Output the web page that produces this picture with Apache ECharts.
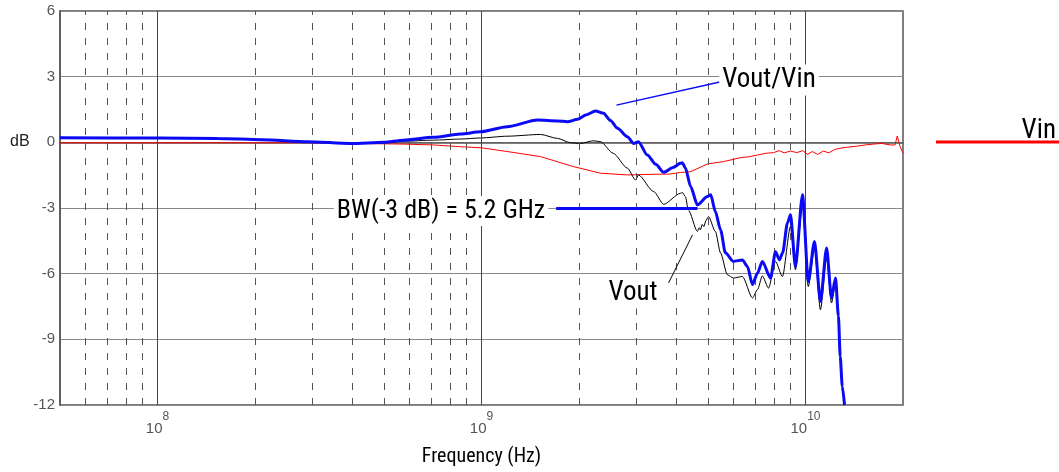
<!DOCTYPE html>
<html>
<head>
<meta charset="utf-8">
<script src="https://cdn.jsdelivr.net/npm/echarts@6/dist/echarts.min.js"></script>
<style>
  html, body { margin: 0; padding: 0; background: #fff; }
  #chart { width: 1059px; height: 472px; }
</style>
</head>
<body>
<div id="chart"></div>
<script>
// Frequency response, frequencies in GHz, levels in dB
const ratioFreqGHz = [0.05,0.10,0.153,0.21,0.29,0.395,0.50,0.574,0.711,0.861,0.993,1.2,1.489,1.717,1.842,1.978,2.1,2.248,2.38,2.5,2.63,2.82,2.95,3.05,3.25,3.45,3.65,3.9,4.11,4.17,4.26,4.42,4.64,4.98,5.10,5.27,5.47,5.66,5.99,6.39,6.62,6.86,7.11,7.36,7.80,8.08,8.31,8.50,8.80,8.99,9.31,9.79,10.2,10.66,11.12,11.62,12.03,12.38,12.64,12.8,12.99,13.2];
const ratioDb = [0.21,0.20,0.18,0.12,0.03,-0.05,0.0,0.10,0.23,0.38,0.48,0.71,1.02,0.98,0.94,1.05,1.25,1.43,1.33,1.0,0.64,0.25,-0.05,0.03,-0.58,-1.0,-1.37,-1.15,-0.96,-0.93,-1.17,-2.02,-2.86,-2.48,-2.4,-3.16,-4.0,-5.05,-5.44,-5.37,-5.67,-6.5,-5.97,-5.44,-6.2,-5.0,-5.37,-5.05,-3.68,-3.31,-5.67,-2.4,-6.36,-4.53,-7.27,-4.83,-7.11,-6.2,-7.95,-9.78,-11.15,-12];

const voutFreqGHz = [0.05,0.10,0.153,0.21,0.29,0.395,0.50,0.574,0.711,0.861,0.993,1.2,1.52,1.717,1.882,2.02,2.216,2.33,2.55,2.82,2.99,3.05,3.40,3.65,4.11,4.17,4.26,4.35,4.64,4.70,4.74,4.80,4.86,4.92,5.02,5.27,5.47,5.74,5.99,6.39,6.86,7.11,7.36,7.69,8.08,8.49,8.99,9.31,9.79,10.2,10.66,11.12,11.62,12.03,12.38,12.64,12.8,12.99,13.2];
const voutDb = [0.21,0.20,0.18,0.12,0.03,-0.07,-0.02,0.05,0.10,0.15,0.20,0.28,0.36,0.18,-0.02,-0.05,0.07,0.03,-0.5,-1.18,-1.72,-1.49,-2.25,-2.83,-2.33,-2.29,-2.48,-3.09,-4.07,-3.90,-4.00,-3.75,-3.85,-3.60,-3.39,-4.07,-5.06,-6.05,-6.2,-6.13,-7.11,-6.73,-6.1,-6.66,-5.44,-6.13,-3.84,-5.82,-2.86,-6.59,-4.83,-7.65,-5.29,-7.34,-6.43,-7.95,-9.78,-11.15,-12];

const vinFreqGHz = [0.05,0.29,0.40,0.574,0.711,0.861,1.0,1.2,1.52,1.923,2.33,2.82,3.40,3.80,4.11,4.42,4.98,5.3,5.58,5.9,6.30,6.7,7.11,7.55,7.97,8.3,8.6,8.99,9.4,9.8,10.15,10.5,10.9,11.36,11.8,12.3,12.8,13.5,14.5,15.3,16.2,17.2,18.3,18.9,19.2,19.6,20.0];
const vinDb = [-0.02,-0.02,-0.05,-0.08,-0.12,-0.2,-0.25,-0.42,-0.65,-1.11,-1.41,-1.49,-1.46,-1.45,-1.38,-1.34,-0.99,-0.93,-0.88,-0.80,-0.70,-0.66,-0.58,-0.5,-0.47,-0.38,-0.48,-0.40,-0.47,-0.38,-0.55,-0.42,-0.55,-0.40,-0.48,-0.33,-0.27,-0.22,-0.17,-0.12,-0.08,-0.05,-0.12,-0.12,0.29,-0.2,-0.49];

// -3 dB bandwidth marker and label pointers (frequency in GHz, level in dB)
const bwMarkerFreqGHz = [1.70, 4.64];
const bwMarkerDb = -3;
const ratioPointer = [[2.61, 1.70], [5.66, 2.81]];
const voutPointer = [[3.78, -6.42], [4.48, -4.23]];

// Axis range and ticks
const freqMinHz = 5e7, freqMaxHz = 2e10;
const decadeTicksHz = [1e8, 1e9, 1e10];
const dbMin = -12, dbMax = 6, dbStep = 3;

const GHZ = 1e9;
const toPairs = (f, v) => f.map((x, i) => [x * GHZ, v[i]]);

// Dashed vertical lines at 2..9 x each decade inside the range
const minorLinesHz = [];
for (let e = 7; e <= 10; e++) {
  for (let m = 2; m <= 9; m++) {
    const f = m * Math.pow(10, e);
    if (f > freqMinHz && f < freqMaxHz) minorLinesHz.push(f);
  }
}

const NARROW = "'Liberation Sans Narrow', 'Arial Narrow', 'Roboto Condensed', sans-serif";
const SANS = "'Liberation Sans', Arial, sans-serif";

const chart = echarts.init(document.getElementById('chart'), null, { renderer: 'canvas' });

const isDecade = v => {
  const l = Math.log10(v);
  return Math.abs(l - Math.round(l)) < 1e-6;
};

chart.setOption({
  animation: false,
  backgroundColor: '#fff',
  grid: {
    left: 60, right: 156, top: 11, bottom: 67,
    show: true, borderColor: '#555', borderWidth: 1.5, backgroundColor: 'transparent'
  },
  xAxis: {
    type: 'log', logBase: 10, min: freqMinHz, max: freqMaxHz,
    name: 'Frequency (Hz)', nameLocation: 'middle', nameGap: 42,
    nameTextStyle: { fontFamily: NARROW, fontSize: 20, color: '#000' },
    axisLine: { show: true, lineStyle: { color: '#555', width: 1.5 } },
    axisTick: { show: false },
    splitLine: { show: false },
    minorTick: { show: false }, minorSplitLine: { show: false },
    axisLabel: {
      showMinLabel: false, showMaxLabel: false, margin: 6,
      color: '#555', fontFamily: SANS, fontSize: 15,
      formatter: v => isDecade(v) ? '{b|10}{sup|' + Math.round(Math.log10(v)) + '}' : '',
      rich: {
        b: { fontFamily: SANS, fontSize: 15, color: '#555', padding: [10, 0, 0, 0] },
        sup: { fontFamily: SANS, fontSize: 12, color: '#555', verticalAlign: 'top' }
      }
    }
  },
  yAxis: {
    type: 'value', min: dbMin, max: dbMax, interval: dbStep,
    axisLine: { show: true, lineStyle: { color: '#555', width: 1.5 } },
    axisTick: { show: false },
    axisLabel: { color: '#555', fontFamily: SANS, fontSize: 15, margin: 5 },
    splitLine: { show: true, lineStyle: { color: '#888', width: 1 } }
  },
  graphic: [
    { type: 'text', z: 100, left: 10, top: 134,
      style: { text: 'dB', fontFamily: SANS, fontSize: 16, fill: '#222' } },
    { type: 'text', z: 100, x: 769, y: 80,
      style: { text: 'Vout/Vin', fontFamily: NARROW, fontSize: 27, fill: '#000',
               align: 'center', verticalAlign: 'middle', backgroundColor: '#fff', padding: [2, 3] } },
    { type: 'text', z: 100, x: 441, y: 211,
      style: { text: 'BW(-3 dB) = 5.2 GHz', fontFamily: NARROW, fontSize: 26, fill: '#000',
               align: 'center', verticalAlign: 'middle', backgroundColor: '#fff', padding: [2, 3] } },
    { type: 'text', z: 100, x: 633, y: 293,
      style: { text: 'Vout', fontFamily: NARROW, fontSize: 27, fill: '#000',
               align: 'center', verticalAlign: 'middle', backgroundColor: '#fff', padding: [2, 3] } },
    { type: 'line', z: 100, shape: { x1: 936, y1: 142, x2: 1059, y2: 142 },
      style: { stroke: '#ff0000', lineWidth: 3 } },
    { type: 'text', z: 100, x: 1056, y: 131,
      style: { text: 'Vin', fontFamily: NARROW, fontSize: 27, fill: '#000',
               align: 'right', verticalAlign: 'middle' } }
  ],
  series: [
    {
      name: 'grid', type: 'line', data: [], silent: true,
      markLine: {
        silent: true, symbol: ['none', 'none'], label: { show: false }, animation: false,
        data: [
          ...minorLinesHz.map(f => ({ xAxis: f, lineStyle: { color: '#555', width: 1, type: [7, 8] } })),
          ...decadeTicksHz.map(f => ({ xAxis: f, lineStyle: { color: '#444', width: 1, type: 'solid' } }))
        ]
      },
      z: 1
    },
    {
      name: 'Vin', type: 'line', data: toPairs(vinFreqGHz, vinDb),
      showSymbol: false, clip: true, z: 3,
      lineStyle: { color: '#ff0000', width: 1 }
    },
    {
      name: 'Vout', type: 'line', data: toPairs(voutFreqGHz, voutDb),
      showSymbol: false, clip: true, z: 4, smooth: 0.25, smoothMonotone: 'x',
      lineStyle: { color: '#000', width: 1 },
      markLine: {
        silent: true, symbol: ['none', 'none'], label: { show: false },
        lineStyle: { color: '#000', width: 1, type: 'solid' },
        data: [[
          { coord: [voutPointer[0][0] * GHZ, voutPointer[0][1]] },
          { coord: [voutPointer[1][0] * GHZ, voutPointer[1][1]] }
        ]]
      }
    },
    {
      name: 'Vout/Vin', type: 'line', data: toPairs(ratioFreqGHz, ratioDb),
      showSymbol: false, clip: true, z: 5, smooth: 0.25, smoothMonotone: 'x',
      lineStyle: { color: '#0a0af5', width: 3 },
      markLine: {
        silent: true, symbol: ['none', 'none'], label: { show: false },
        data: [
          [
            { coord: [bwMarkerFreqGHz[0] * GHZ, bwMarkerDb], lineStyle: { color: '#0a0af5', width: 3, type: 'solid' } },
            { coord: [bwMarkerFreqGHz[1] * GHZ, bwMarkerDb] }
          ],
          [
            { coord: [ratioPointer[0][0] * GHZ, ratioPointer[0][1]], lineStyle: { color: '#0a0af5', width: 1.5, type: 'solid' } },
            { coord: [ratioPointer[1][0] * GHZ, ratioPointer[1][1]] }
          ]
        ]
      }
    }
  ]
});
</script>
</body>
</html>
